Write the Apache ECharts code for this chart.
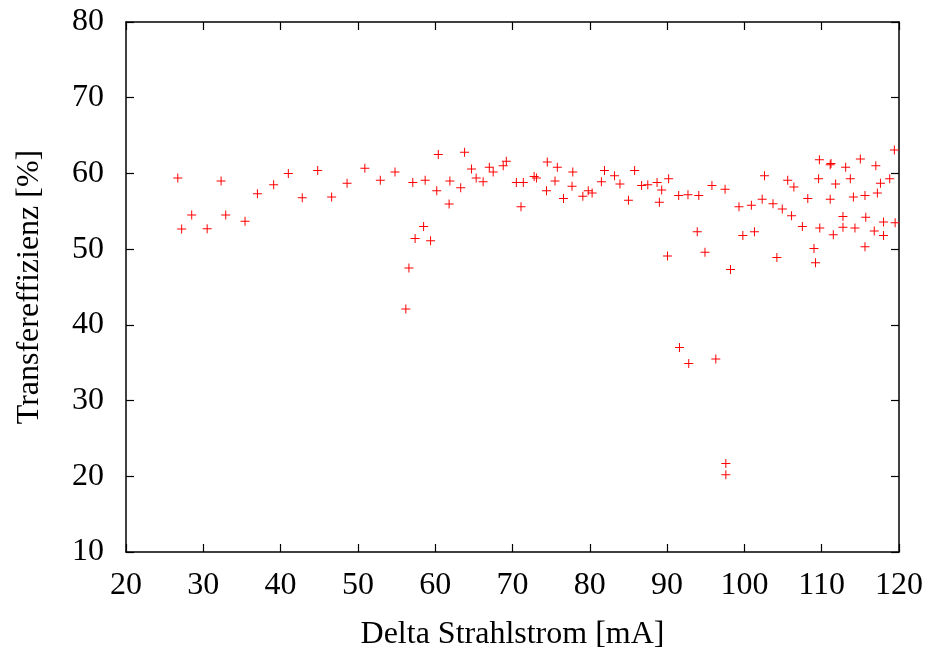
<!DOCTYPE html>
<html>
<head>
<meta charset="utf-8">
<script src="https://cdn.jsdelivr.net/npm/echarts@6/dist/echarts.min.js"></script>
<style>html,body{margin:0;padding:0;background:#fff}#c{width:928px;height:656px}</style>
</head>
<body>
<div id="c"></div>
<script>
var xValues = [26.7,27.2,28.5,30.5,32.3,32.9,35.4,37.0,39.1,41.0,42.8,44.8,46.6,48.6,50.9,52.9,54.8,56.2,56.6,57.1,57.4,58.5,58.7,59.4,60.2,60.4,61.8,61.9,63.3,63.8,64.7,65.3,66.2,67.0,67.5,68.8,69.2,70.5,71.4,71.1,72.8,73.1,74.5,74.4,75.5,75.8,76.6,77.7,77.8,79.1,79.8,80.3,81.5,81.9,83.2,83.9,85.0,85.8,86.7,87.5,88.7,89.0,89.3,90.05,90.2,91.6,91.5,92.7,92.8,93.9,94.1,94.9,95.8,96.3,97.5,97.6,97.6,98.2,99.3,99.8,100.9,101.3,102.3,102.6,103.7,104.2,104.9,105.6,106.1,106.4,107.5,108.2,109.0,109.2,109.6,109.7,109.75,111.1,111.2,111.1,111.5,111.8,112.75,112.75,113.1,113.7,114.1,114.3,115.0,115.6,115.7,115.6,116.8,117.0,117.2,117.6,118.0,118.0,118.8,119.4,119.5];
var yValues = [59.4,52.65,54.5,52.7,59.0,54.5,53.7,57.3,58.5,60.0,56.8,60.4,56.9,58.7,60.7,59.1,60.2,42.1,47.5,58.8,51.4,53.0,59.1,51.1,57.7,62.5,55.95,59.0,58.1,62.8,60.6,59.4,58.9,60.8,60.2,61.0,61.6,58.8,58.8,55.6,59.6,59.4,61.5,57.7,59.0,60.8,56.7,58.3,60.2,57.0,57.7,57.4,58.9,60.4,59.7,58.6,56.45,60.4,58.4,58.5,58.8,56.2,57.8,49.1,59.3,37.0,57.1,57.2,34.9,52.3,57.1,49.6,58.4,35.5,57.9,21.7,20.2,47.3,55.6,51.8,55.8,52.3,56.6,59.7,56.0,48.9,55.3,59.1,54.4,58.2,53.0,56.7,50.1,48.2,59.3,61.8,52.8,61.15,61.3,56.6,51.9,58.6,52.9,54.3,60.8,59.3,56.9,52.8,61.9,50.3,54.2,57.1,52.4,61.0,57.4,58.7,53.6,51.8,59.3,63.1,53.5];
var xTicks = [20,30,40,50,60,70,80,90,100,110,120];
var yTicks = [10,20,30,40,50,60,70,80];

var points = xValues.map(function(x,i){return [x, yValues[i]];});
var chart = echarts.init(document.getElementById('c'), null, {renderer:'canvas'});
var font = '"Liberation Serif","Times New Roman",serif';
var axisLine = {show:true, lineStyle:{color:'#000', width:1.5}};
var tick = {show:true, inside:true, length:8, lineStyle:{color:'#000', width:1.2}};
chart.setOption({
  backgroundColor:'#fff',
  animation:false,
  grid:{left:126, right:29, top:22, bottom:104, containLabel:false, outerBoundsMode:'none'},
  xAxis:[{
    type:'value', min:xTicks[0], max:xTicks[xTicks.length-1], interval:10,
    name:'Delta Strahlstrom [mA]', nameLocation:'middle', nameGap:67,
    nameTextStyle:{fontFamily:font, fontSize:32, color:'#000'},
    axisLine:axisLine, axisTick:tick, splitLine:{show:false},
    axisLabel:{fontFamily:font, fontSize:32, color:'#000', margin:18}
  },{
    type:'value', position:'top', min:xTicks[0], max:xTicks[xTicks.length-1], interval:10,
    axisLine:axisLine, axisTick:tick, splitLine:{show:false}, axisLabel:{show:false}
  }],
  yAxis:[{
    type:'value', min:yTicks[0], max:yTicks[yTicks.length-1], interval:10,
    name:'Transfereffizienz [%]', nameLocation:'middle', nameGap:80,
    nameTextStyle:{fontFamily:font, fontSize:32, color:'#000'},
    axisLine:axisLine, axisTick:tick, splitLine:{show:false},
    axisLabel:{fontFamily:font, fontSize:32, color:'#000', margin:22}
  },{
    type:'value', position:'right', min:yTicks[0], max:yTicks[yTicks.length-1], interval:10,
    axisLine:axisLine, axisTick:tick, splitLine:{show:false}, axisLabel:{show:false}
  }],
  series:[{
    type:'scatter',
    data:points,
    symbol:'path://M4,0H5V4H9V5H5V9H4V5H0V4H4Z',
    symbolSize:9,
    itemStyle:{color:'#ff0000', opacity:1},
    clip:false
  }]
});
</script>
</body>
</html>
